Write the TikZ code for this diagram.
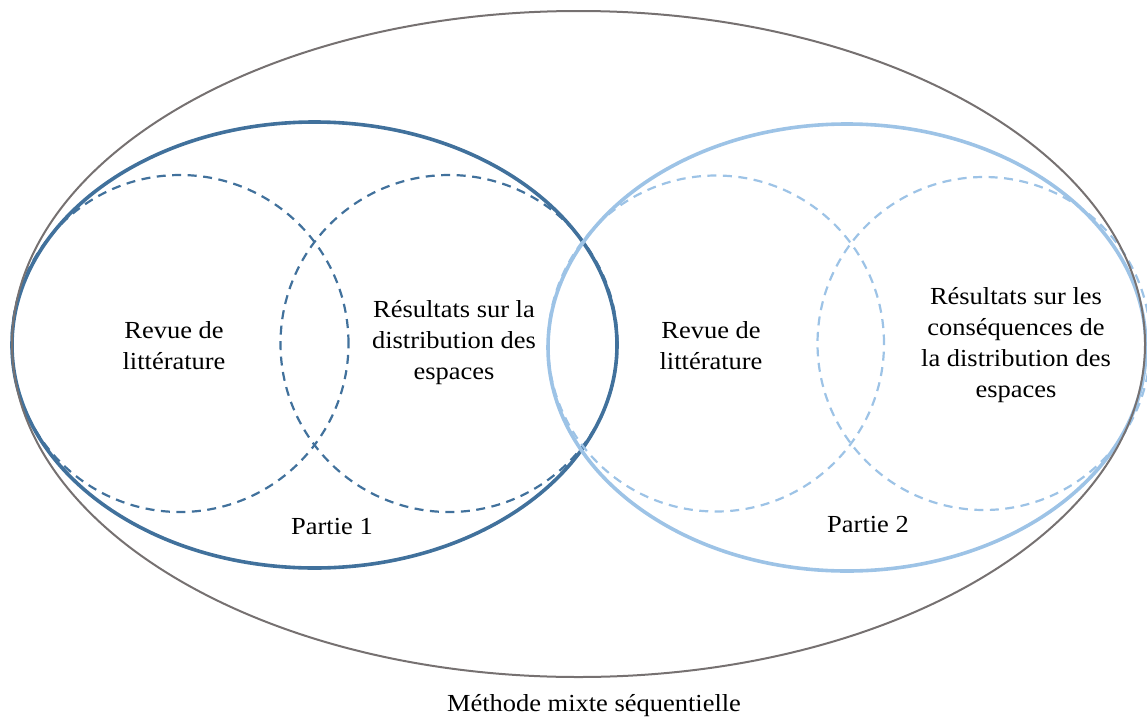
\documentclass[tikz,border=0pt]{standalone}
\usepackage{fontspec}
\setmainfont{Liberation Serif}[FakeStretch=1.08]
\definecolor{darkblue}{HTML}{41719C}
\definecolor{lightblue}{HTML}{9DC3E6}
\definecolor{outergray}{HTML}{767171}
\begin{document}
\begin{tikzpicture}[x=1pt,y=-1pt,
  lbl/.style={align=center,inner sep=0pt,font=\fontsize{24.5}{31}\selectfont},
  outerring/.style={draw=outergray,line width=2pt},
  partring/.style={line width=3.6pt},
  dashring/.style={line width=2.2pt,dash pattern=on 9pt off 6.5pt}]
\useasboundingbox (0,0) rectangle (1147,720);
\clip (0,0) rectangle (1147,720);
% Part 1
\draw[dashring,darkblue] (180,343.5) circle [radius=168.5pt];
\draw[dashring,darkblue] (449,343.5) circle [radius=168.5pt];
\draw[partring,darkblue] (314.5,345) ellipse [x radius=302.5pt, y radius=223pt];
% Part 2
\draw[dashring,lightblue] (716,343.5) circle [radius=168pt];
\draw[dashring,lightblue] (984,343.5) circle [radius=166.5pt];
\draw[partring,lightblue] (847,347.5) ellipse [x radius=299pt, y radius=223.5pt];
% Outer
\draw[outerring] (578.5,344) ellipse [x radius=566.5pt, y radius=333pt];
% Labels
\node[lbl] (rev1) at (174,345.5) {Revue de\\littérature};
\node[lbl] (res1) at (454,343) {Résultats sur la\\distribution des\\espaces};
\node[lbl] (p1) at (332,526) {Partie 1};
\node[lbl] (rev2) at (711,345.5) {Revue de\\littérature};
\node[lbl] (res2) at (1016,345) {Résultats sur les\\conséquences de\\la distribution des\\espaces};
\node[lbl] (p2) at (868,524) {Partie 2};
\node[lbl] (meth) at (594,706) {Méthode mixte séquentielle};
\end{tikzpicture}
\end{document}
